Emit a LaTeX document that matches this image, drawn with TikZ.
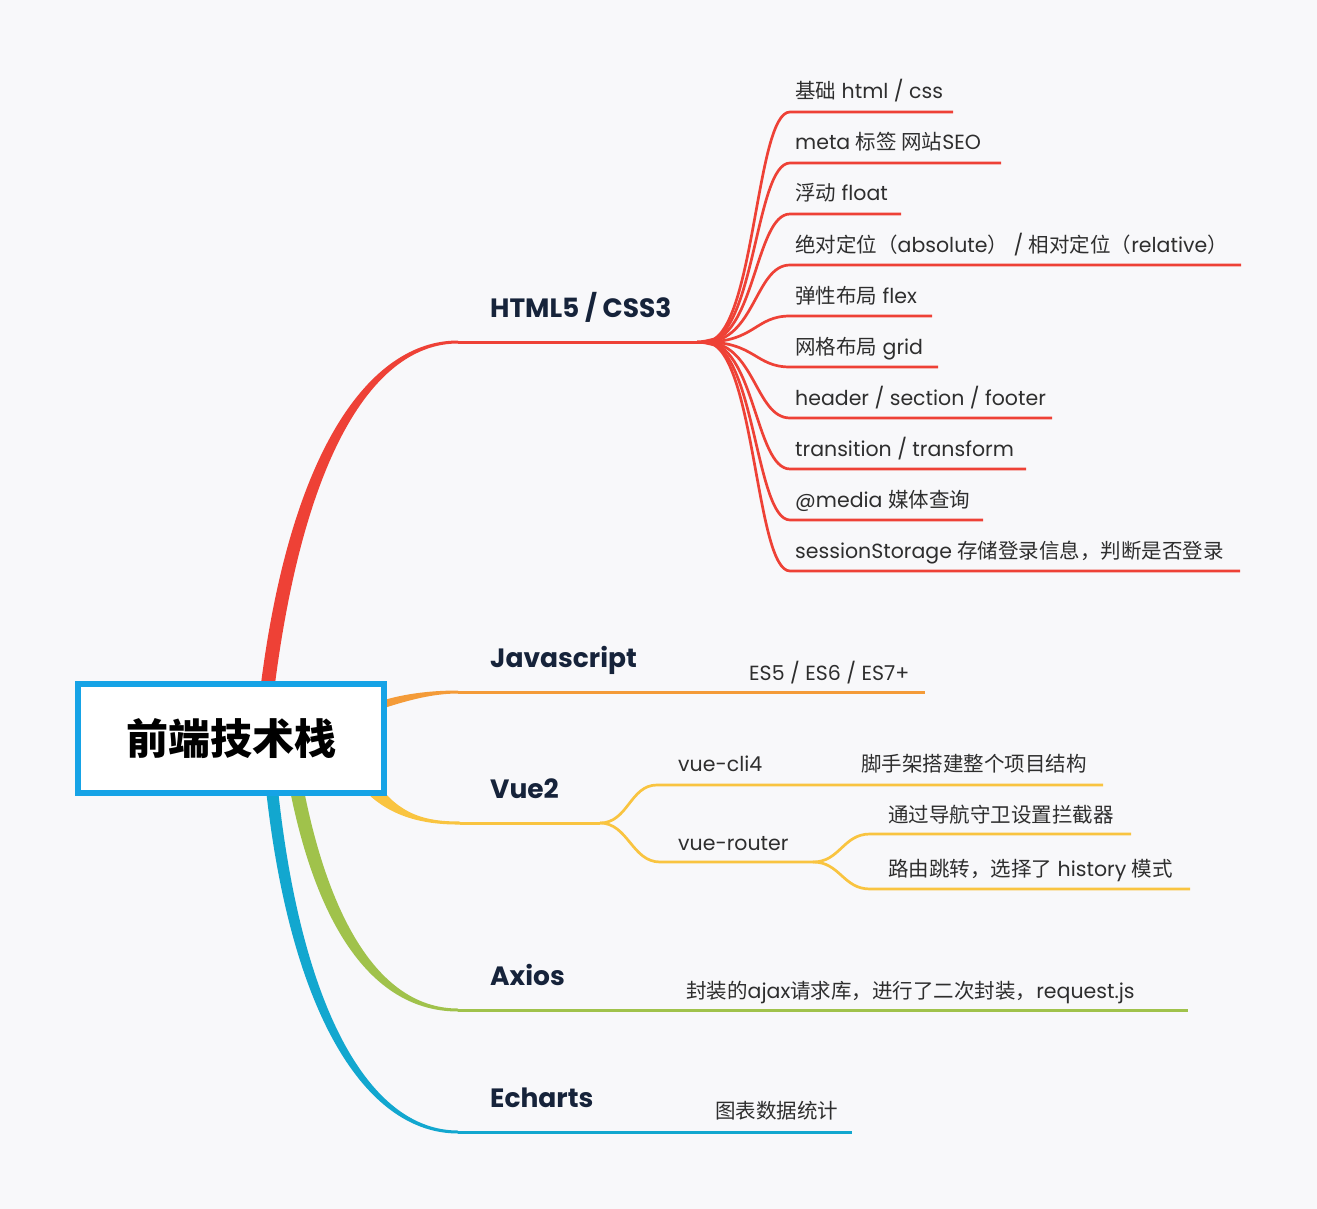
\documentclass[tikz,border=0pt]{standalone}
\usepackage{fontspec}
\setmainfont{Poppins}
\newfontfamily\cjk{Noto Sans CJK SC}
\usetikzlibrary{calc}
\pgfdeclarelayer{bottom}
\pgfdeclarelayer{branches}
\pgfsetlayers{bottom,branches,main}
\definecolor{bgc}{HTML}{F8F8FA}
\definecolor{rootblue}{HTML}{16A3E6}
\definecolor{redc}{HTML}{EE4136}
\definecolor{orangec}{HTML}{F49B38}
\definecolor{yellowc}{HTML}{F9C440}
\definecolor{greenc}{HTML}{A0C24B}
\definecolor{bluec}{HTML}{12A7CF}
\definecolor{navy}{HTML}{16233A}
\definecolor{txt}{HTML}{2E2E2E}
\newcommand\zh[1]{{\cjk #1}}
\tikzset{
  lbl/.style={inner sep=0pt, anchor=base west, text=txt, font=\fontsize{20.5}{24}\selectfont},
  mainlbl/.style={inner sep=0pt, anchor=base west, text=navy, font=\fontsize{26.5}{30}\selectfont\bfseries},
  rootbox/.style={draw=rootblue, line width=6pt, fill=white, minimum width=306pt,
    minimum height=109pt, inner sep=0pt, text=black, font=\cjk\bfseries\fontsize{42}{48}\selectfont},
  br/.style={line width=3pt},
  sub/.style={line width=2.7pt},
}
\newcommand\redchild[4]{%
  \coordinate (#1s) at (790,#2);
  \coordinate (#1e) at (#3,#2);
  \node[lbl] (#1) at (795,#2-13) {#4};
  \begin{pgfonlayer}{branches}
  \draw[sub, redc] (hj) .. controls ($(hj)+(50,0)$) and ($(#1s)+(-35,0)$) .. (#1s) -- (#1e);
  \end{pgfonlayer}}
\begin{document}
\begin{tikzpicture}[x=1pt,y=-1pt]
\begin{pgfonlayer}{bottom}
  \fill[bgc] (0,0) rectangle (1317,1209);
\end{pgfonlayer}
\useasboundingbox (0,0) rectangle (1317,1209);

% root
\node[rootbox] (root) at (231,738.5) {前端技术栈};

% key points
\coordinate (rA) at (266,700);
\coordinate (hb) at (458,342);
\coordinate (hj) at (705,342);
\coordinate (oA) at (375,707);
\coordinate (jb) at (458,692);
\coordinate (je) at (925,692);
\coordinate (yA) at (370,786);
\coordinate (vb) at (460,823);
\coordinate (vj) at (600,823);
\coordinate (gA) at (295,780);
\coordinate (ab) at (458,1010);
\coordinate (ae) at (1188,1010);
\coordinate (bA) at (271,780);
\coordinate (eb) at (458,1132);
\coordinate (ee) at (852,1132);

% main labels
\node[mainlbl] (html) at (490,317) {HTML5 / CSS3};
\node[mainlbl] (js) at (490,667) {Javascript};
\node[mainlbl] (vue) at (490,798) {Vue2};
\node[mainlbl] (axios) at (490,985) {Axios};
\node[mainlbl] (echarts) at (490,1107) {Echarts};

% branches
\begin{pgfonlayer}{branches}
  % red
  \fill[redc] ($(rA)+(-7,0)$) .. controls (288,450) and (370,340.5) .. ($(hb)+(0,-1.5)$)
     -- ($(hb)+(0,1.5)$) .. controls (374,343.5) and (302,455) .. ($(rA)+(7,0)$) -- cycle;
  \draw[br, redc] (hb) -- (hj);
  \fill[redc] ($(hj)+(-8,-1.5)$) .. controls ($(hj)+(2,-1.5)$) and ($(hj)+(8,-5)$) .. ($(hj)+(14,-5)$)
     -- ($(hj)+(14,5)$) .. controls ($(hj)+(8,5)$) and ($(hj)+(2,1.5)$) .. ($(hj)+(-8,1.5)$) -- cycle;
  % orange
  \fill[orangec] ($(oA)+(0,-4)$) .. controls (400,694) and (430,690.5) .. ($(jb)+(0,-1.5)$)
     -- ($(jb)+(0,1.5)$) .. controls (430,693.5) and (402,702) .. ($(oA)+(0,4)$) -- cycle;
  \draw[br, orangec] (jb) -- (je);
  % yellow
  \fill[yellowc] ($(yA)+(6,-4)$) .. controls (400,815) and (425,821.5) .. ($(vb)+(0,-1.5)$)
     -- ($(vb)+(0,1.5)$) .. controls (415,825) and (385,812) .. ($(yA)+(-6,4)$) -- cycle;
  \draw[br, yellowc] (vb) -- (vj);
  % green
  \fill[greenc] ($(gA)+(7,0)$) .. controls (330,930) and (385,1008.5) .. ($(ab)+(0,-1.5)$)
     -- ($(ab)+(0,1.5)$) .. controls (380,1011.5) and (318,940) .. ($(gA)+(-7,0)$) -- cycle;
  \draw[br, greenc] (ab) -- (ae);
  % blue
  \fill[bluec] ($(bA)+(6,0)$) .. controls (300,1010) and (370,1130.5) .. ($(eb)+(0,-1.5)$)
     -- ($(eb)+(0,1.5)$) .. controls (366,1133.5) and (289,1015) .. ($(bA)+(-6,0)$) -- cycle;
  \draw[br, bluec] (eb) -- (ee);
\end{pgfonlayer}

% HTML5 / CSS3 children
\redchild{c1}{112}{953}{\zh{基础} html / css}
\redchild{c2}{163}{1001}{meta \zh{标签 网站}SEO}
\redchild{c3}{214}{901}{\zh{浮动} float}
\redchild{c4}{265}{1241}{\zh{绝对定位（}absolute\zh{）} / \zh{相对定位（}relative\zh{）}}
\redchild{c5}{316}{932}{\zh{弹性布局} flex}
\redchild{c6}{367}{938}{\zh{网格布局} grid}
\redchild{c7}{418}{1052}{header / section / footer}
\redchild{c8}{469}{1026}{transition / transform}
\redchild{c9}{520}{983}{@media \zh{媒体查询}}
\redchild{c10}{571}{1240}{sessionStorage \zh{存储登录信息，判断是否登录}}

% Javascript child
\node[lbl] (es) at (749,680) {ES5 / ES6 / ES7+};

% Vue2 children
\coordinate (clis) at (657,785);
\coordinate (clie) at (1103,785);
\coordinate (rts) at (660,862);
\coordinate (rj) at (813,862);
\coordinate (gds) at (870,834);
\coordinate (gde) at (1131,834);
\coordinate (hss) at (870,889);
\coordinate (hse) at (1190,889);
\node[lbl] (cli) at (678,771) {vue-cli4};
\node[lbl] (scaf) at (861,771) {\zh{脚手架搭建整个项目结构}};
\node[lbl] (router) at (678,850) {vue-router};
\node[lbl] (guard) at (888,822) {\zh{通过导航守卫设置拦截器}};
\node[lbl] (hist) at (888,876) {\zh{路由跳转，选择了} history \zh{模式}};
\begin{pgfonlayer}{branches}
  \draw[sub, yellowc] (vj) .. controls ($(vj)+(28,0)$) and ($(clis)+(-27,0)$) .. (clis) -- (clie);
  \draw[sub, yellowc] (vj) .. controls ($(vj)+(28,0)$) and ($(rts)+(-28,0)$) .. (rts) -- (rj);
  \draw[sub, yellowc] (rj) .. controls ($(rj)+(27,0)$) and ($(gds)+(-27,0)$) .. (gds) -- (gde);
  \draw[sub, yellowc] (rj) .. controls ($(rj)+(27,0)$) and ($(hss)+(-27,0)$) .. (hss) -- (hse);
\end{pgfonlayer}

% Axios child
\node[lbl] (ajax) at (686,998) {\zh{封装的}ajax\zh{请求库，进行了二次封装，}request.js};

% Echarts child
\node[lbl] (chart) at (715,1118) {\zh{图表数据统计}};
\end{tikzpicture}
\end{document}
